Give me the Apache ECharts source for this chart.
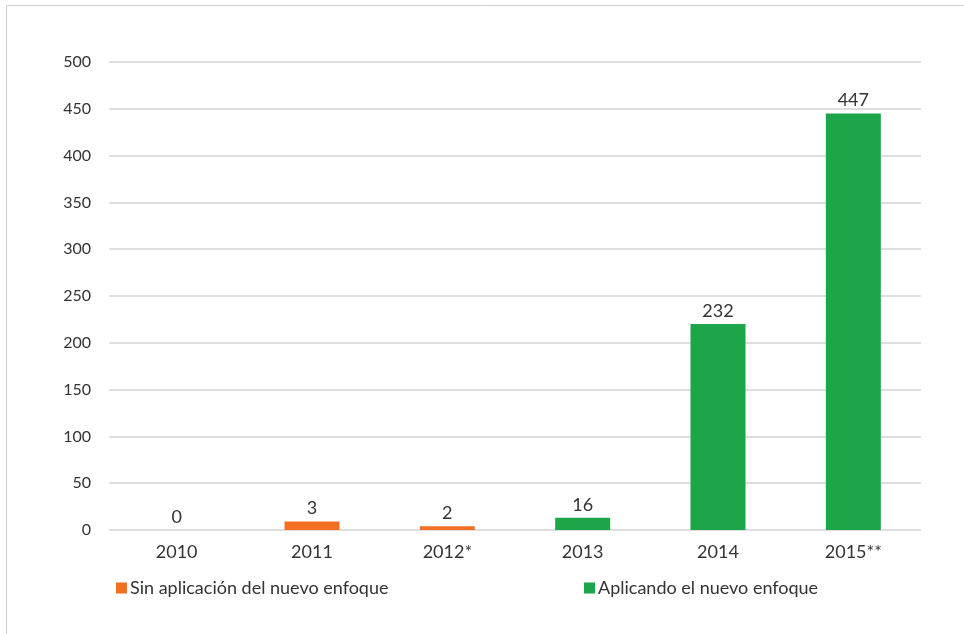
<!DOCTYPE html>
<html>
<head>
<meta charset="utf-8">
<script src="https://cdn.jsdelivr.net/npm/echarts@6/dist/echarts.min.js"></script>
<style>
html,body{margin:0;padding:0;background:#fff;}
#chart{width:964px;height:634px;}
</style>
</head>
<body>
<div id="chart"></div>
<script>
var categories = ['2010', '2011', '2012*', '2013', '2014', '2015**'];
var seriesNames = ['Sin aplicación del nuevo enfoque', 'Aplicando el nuevo enfoque'];
// bar heights
var sinBars = [0, 9, 4, null, null, null];
var conBars = [null, null, null, 13, 220, 445];
// value labels printed above the bars
var sinLabels = ['0', '3', '2', '', '', ''];
var conLabels = ['', '', '', '16', '232', '447'];
var yTicks = [0, 50, 100, 150, 200, 250, 300, 350, 400, 450, 500];

var font = 'Lato, "Open Sans", sans-serif';
var chart = echarts.init(document.getElementById('chart'));
chart.setOption({
  animation: false,
  graphic: [{
    type: 'rect',
    shape: {x: 6.5, y: 5.5, width: 1000, height: 700},
    style: {fill: 'none', stroke: '#cfcfcf', lineWidth: 1},
    silent: true
  }],
  grid: {left: 109, right: 43, top: 62, bottom: 104},
  legend: [{
    data: [seriesNames[0]],
    left: 111, top: 574,
    icon: 'rect', itemWidth: 11, itemHeight: 11, itemGap: 4,
    textStyle: {fontFamily: font, fontSize: 18, color: '#333', padding: [0, 0, 0, -2]}
  }, {
    data: [seriesNames[1]],
    left: 579, top: 574,
    icon: 'rect', itemWidth: 11, itemHeight: 11,
    textStyle: {fontFamily: font, fontSize: 18, color: '#333', padding: [0, 0, 0, -2]}
  }],
  xAxis: {
    type: 'category',
    data: categories,
    axisLine: {show: false},
    axisTick: {show: false},
    axisLabel: {fontFamily: font, fontSize: 18, color: '#333', margin: 13}
  },
  yAxis: {
    type: 'value',
    min: yTicks[0], max: yTicks[yTicks.length - 1], interval: 50,
    axisLine: {show: false},
    axisTick: {show: false},
    axisLabel: {fontFamily: font, fontSize: 16, color: '#333', margin: 18},
    splitLine: {lineStyle: {color: '#dedede', width: 2}}
  },
  series: [{
    name: seriesNames[0],
    type: 'bar',
    stack: 'a',
    data: sinBars,
    barWidth: 55,
    itemStyle: {color: '#F36F21'},
    label: {
      show: true, position: 'top', distance: 4,
      fontFamily: font, fontSize: 18, color: '#333',
      formatter: function (p) { return sinLabels[p.dataIndex]; }
    }
  }, {
    name: seriesNames[1],
    type: 'bar',
    stack: 'a',
    data: conBars,
    barWidth: 55,
    itemStyle: {color: '#1DA54A'},
    label: {
      show: true, position: 'top', distance: 4,
      fontFamily: font, fontSize: 18, color: '#333',
      formatter: function (p) { return conLabels[p.dataIndex]; }
    }
  }]
});
</script>
</body>
</html>
